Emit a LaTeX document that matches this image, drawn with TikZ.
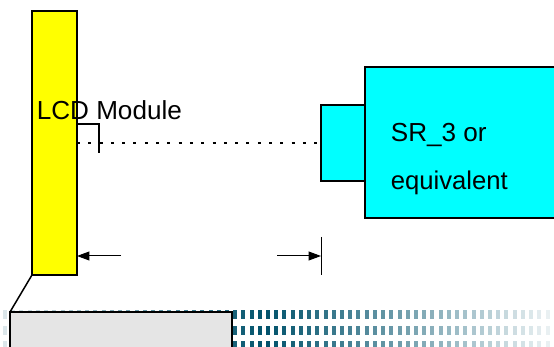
\documentclass[tikz,border=0pt]{standalone}
\usepackage{fontspec}
\setmainfont{Liberation Sans}
\usetikzlibrary{arrows.meta, positioning}
\definecolor{panelyellow}{rgb}{1.0,1.0,0.0}
\definecolor{sensorcyan}{rgb}{0.0,1.0,1.0}
\definecolor{tablegrey}{rgb}{0.90,0.90,0.90}
\definecolor{dotteal}{rgb}{0.0,0.32,0.42}

\begin{document}
\begin{tikzpicture}[x=0.02cm, y=-0.02cm,
    box/.style={rectangle, draw=black, line width=0.03cm, inner sep=0pt, outer sep=0pt, anchor=north west},
    label/.style={inner sep=0pt, anchor=base west, font=\fontsize{14.85}{17}\selectfont},
    arrow/.style={-{Triangle[length=0.25cm, width=0.18cm]}, line width=0.02cm},
    thinline/.style={line width=0.03cm}
]

\clip (0,0) rectangle (554,347);

% fading dot field behind the grey box
\foreach \row in {315,330,345} {
  \foreach \col in {0,...,66} {
    \pgfmathsetmacro{\dotx}{5+8.22*\col}
    \pgfmathsetmacro{\shade}{\dotx<265 ? 14+0.33*(\dotx-4) : 100-0.323*(\dotx-265)}
    \fill[dotteal!\shade!white] (\dotx-2,\row-4.5) rectangle (\dotx+2,\row+4.5);
  }
}

\node[box, fill=panelyellow, minimum width=0.9cm, minimum height=5.28cm] (panel) at (32,11) {};
\node[box, fill=sensorcyan, minimum width=4cm, minimum height=3.02cm] (sensor) at (365,67) {};
\node[box, fill=sensorcyan, minimum width=0.88cm, minimum height=1.52cm] (lens) at (321,105) {};
\node[box, fill=tablegrey, minimum width=4.44cm, minimum height=1.2cm] (table) at (10,312) {};

\node[label] (lcdtext) at (36.5,119.5) {LCD Module};
\node[label] (srtext) at (390.5,142) {SR\_3 or};
\node[label, font=\fontsize{14.6}{17}\selectfont] (eqtext) at (390.5,189.5) {equivalent};

\coordinate (bendend) at (99,153);
\coordinate (leftfree) at (121,256);
\coordinate (rightfree) at (277,256);
\coordinate (tickup) at (321,237);
\coordinate (tickdown) at (321,275);

\draw[thinline] (panel.south west) -- (table.north west);
\draw[thinline] (panel.east |- 0,124) -| (bendend);
\draw[thinline, dash pattern=on 0.06cm off 0.166cm] (panel.east |- 0,143) -- (lens.west |- 0,143);
\draw[arrow] (leftfree) -- (panel.east |- leftfree);
\draw[arrow] (rightfree) -- (tickup |- rightfree);
\draw[line width=0.02cm] (tickup) -- (tickdown);

\end{tikzpicture}
\end{document}
